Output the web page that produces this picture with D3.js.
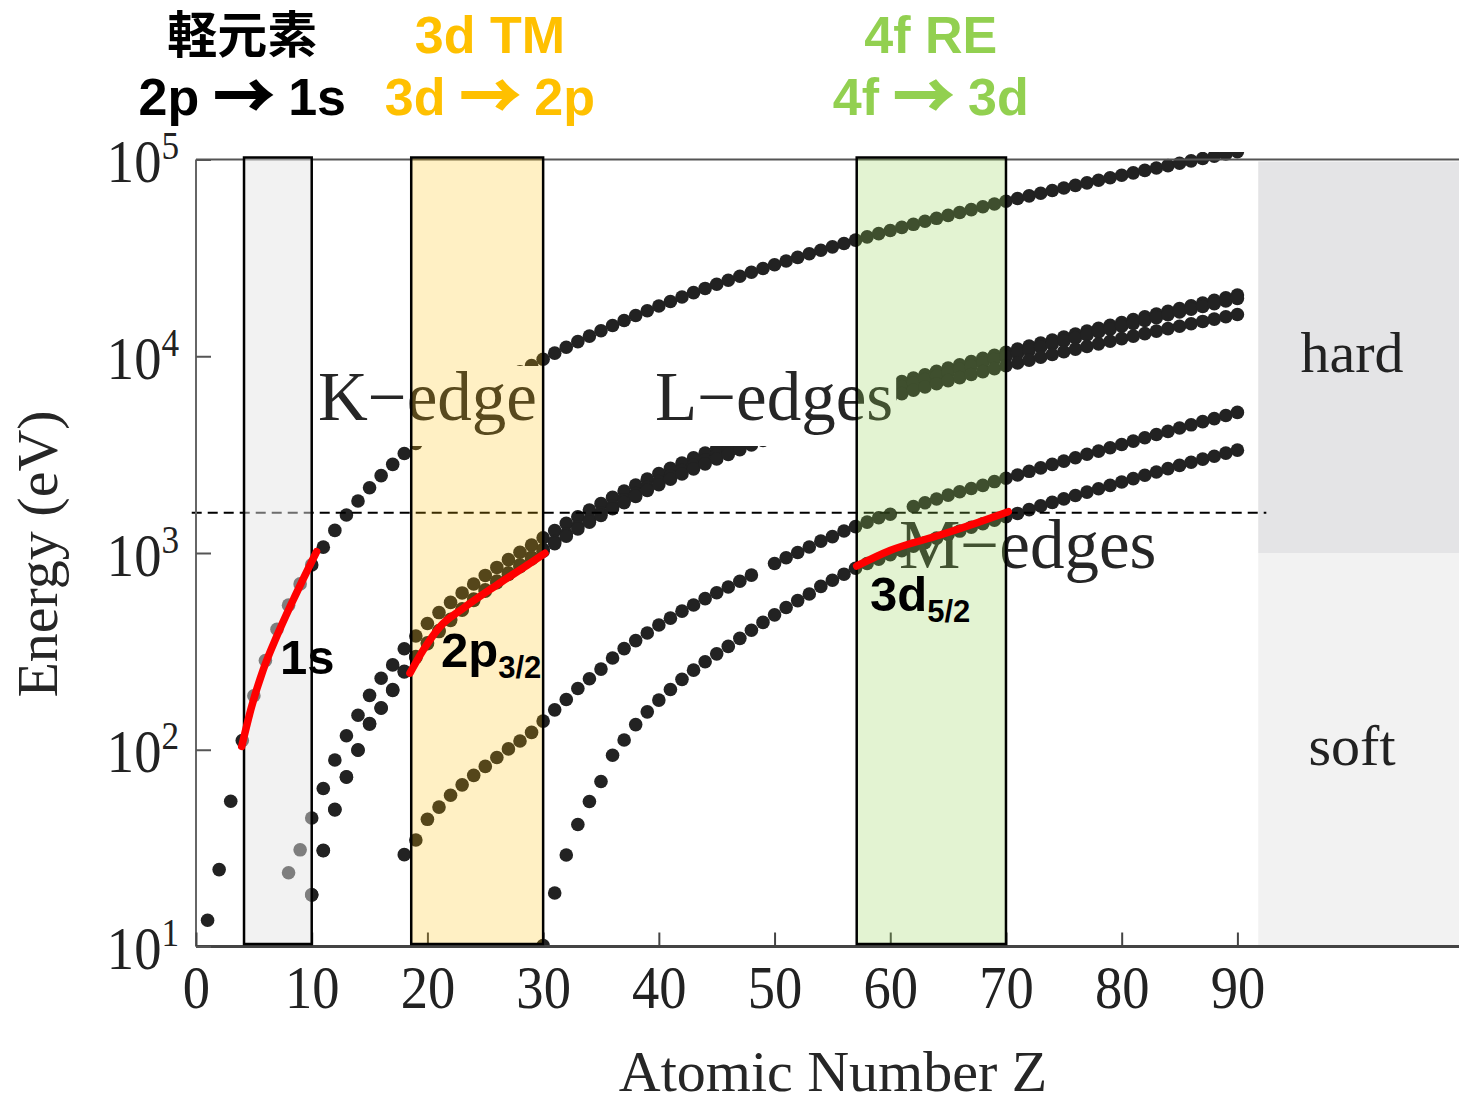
<!DOCTYPE html>
<html>
<head>
<meta charset="utf-8">
<script src="https://cdn.jsdelivr.net/npm/d3@7/dist/d3.min.js"></script>
<style>
  html, body { margin: 0; padding: 0; background: #fff; }
  svg { display: block; }
</style>
</head>
<body>
<svg id="chart" width="1459" height="1096"></svg>
<script>
// Atomic numbers Z = 1 … 90
const atomicNumbers = [
  1, 2, 3, 4, 5, 6, 7, 8, 9, 10,
  11, 12, 13, 14, 15, 16, 17, 18, 19, 20,
  21, 22, 23, 24, 25, 26, 27, 28, 29, 30,
  31, 32, 33, 34, 35, 36, 37, 38, 39, 40,
  41, 42, 43, 44, 45, 46, 47, 48, 49, 50,
  51, 52, 53, 54, 55, 56, 57, 58, 59, 60,
  61, 62, 63, 64, 65, 66, 67, 68, 69, 70,
  71, 72, 73, 74, 75, 76, 77, 78, 79, 80,
  81, 82, 83, 84, 85, 86, 87, 88, 89, 90
];

// Absorption edge energies (eV), one entry per atomic number; null = no edge plotted
const kEdge = [
  13.6, 24.6, 54.7, 111.5, 188, 284.2, 409.9, 543.1, 696.7, 870.2,
  1070.8, 1303, 1559.6, 1839, 2145.5, 2472, 2822.4, 3205.9, 3608.4, 4038.5,
  4492, 4966, 5465, 5989, 6539, 7112, 7709, 8333, 8979, 9659,
  10367, 11103, 11867, 12658, 13474, 14326, 15200, 16105, 17038, 17998,
  18986, 20000, 21044, 22117, 23220, 24350, 25514, 26711, 27940, 29200,
  30491, 31814, 33169, 34561, 35985, 37441, 38925, 40443, 41991, 43569,
  45184, 46834, 48519, 50239, 51996, 53789, 55618, 57486, 59390, 61332,
  63314, 65351, 67416, 69525, 71676, 73871, 76111, 78395, 80725, 83102,
  85530, 88005, 90526, 93105, 95730, 98404, 101137, 103922, 106755, 109651
];
const l1Edge = [
  null, null, null, null, null, null, null, 23.7, 31, 45,
  63.5, 88.7, 117.8, 149.7, 189, 230.9, 270, 326.3, 378.6, 438.4,
  498, 560.9, 626.7, 696, 769.1, 844.6, 925.1, 1008.6, 1096.7, 1196.2,
  1299, 1414.6, 1527, 1652, 1782, 1921, 2065, 2216, 2373, 2532,
  2698, 2866, 3043, 3224, 3412, 3604, 3806, 4018, 4238, 4465,
  4698, 4939, 5188, 5453, 5714, 5989, 6266, 6549, 6835, 7126,
  7428, 7737, 8052, 8376, 8708, 9046, 9394, 9751, 10116, 10486,
  10870, 11271, 11682, 12100, 12527, 12968, 13419, 13880, 14353, 14839,
  15347, 15861, 16388, 16939, 17493, 18049, 18639, 19237, 19840, 20472
];
const l2Edge = [
  null, null, null, null, null, null, null, null, null, 18.3,
  30.65, 49.78, 72.95, 99.82, 136, 163.6, 202, 250.6, 297.3, 349.7,
  403.6, 460.2, 519.8, 583.8, 649.9, 719.9, 793.2, 870, 952.3, 1044.9,
  1143.2, 1248.1, 1359.1, 1474.3, 1596, 1730.9, 1864, 2007, 2156, 2307,
  2465, 2625, 2793, 2967, 3146, 3330, 3524, 3727, 3938, 4156,
  4380, 4612, 4852, 5107, 5359, 5624, 5891, 6164, 6440, 6722,
  7013, 7312, 7617, 7930, 8252, 8581, 8918, 9264, 9617, 9978,
  10349, 10739, 11136, 11544, 11959, 12385, 12824, 13273, 13734, 14209,
  14698, 15200, 15711, 16244, 16785, 17337, 17907, 18484, 19083, 19693
];
const l3Edge = [
  null, null, null, null, null, null, null, null, null, 18.3,
  30.81, 49.5, 72.55, 99.42, 135, 162.5, 200, 248.4, 294.6, 346.2,
  398.7, 453.8, 512.1, 574.1, 638.7, 706.8, 778.1, 852.7, 932.7, 1021.8,
  1116.4, 1217, 1323.6, 1433.9, 1550, 1678.4, 1804, 1940, 2080, 2223,
  2371, 2520, 2677, 2838, 3004, 3173, 3351, 3538, 3730, 3929,
  4132, 4341, 4557, 4786, 5012, 5247, 5483, 5723, 5964, 6208,
  6459, 6716, 6977, 7243, 7514, 7790, 8071, 8358, 8648, 8944,
  9244, 9561, 9881, 10207, 10535, 10871, 11215, 11564, 11919, 12284,
  12658, 13035, 13419, 13814, 14214, 14619, 15031, 15444, 15871, 16300
];
const m1Edge = [
  null, null, null, null, null, null, null, null, null, null,
  null, null, null, null, null, null, null, 29.3, 34.8, 44.3,
  51.1, 58.7, 66.3, 74.1, 82.3, 91.3, 101, 110.8, 122.5, 139.8,
  159.5, 180.1, 204.7, 229.6, 257, 292.8, 326.7, 358.7, 392, 430.3,
  466.6, 506.3, 544, 586.1, 628.1, 671.6, 719, 772, null, 884.7,
  946, 1006, 1072, 1148.7, 1211, 1293, 1362, 1436, 1511, 1575,
  null, 1723, 1800, 1881, 1968, 2047, 2128, 2207, 2307, 2398,
  2491, 2601, 2708, 2820, 2932, 3049, 3174, 3296, 3425, 3562,
  3704, 3851, 3999, 4149, 4317, 4482, 4652, 4822, 5002, 5182
];
const m5Edge = [
  null, null, null, null, null, null, null, null, null, null,
  null, null, null, null, null, null, null, null, null, null,
  null, null, null, null, null, null, null, null, null, 10.1,
  18.7, 29.2, 41.7, 54.6, 69, 93.8, 112, 134.2, 155.8, 178.8,
  202.3, 227.9, 253.9, 280, 307.2, 335.2, 368.3, 405.2, 443.9, 484.9,
  528.2, 573, 619.3, 676.4, 726.6, 780.5, 836, 883.8, 928.8, 980.4,
  1027, 1083.4, 1127.5, 1189.6, 1241.1, 1292.6, 1351, 1409, 1468, 1528,
  1589, 1662, 1735, 1809, 1883, 1960, 2040, 2122, 2206, 2295,
  2389, 2484, 2580, 2683, 2787, 2892, 3000, 3105, 3219, 3332
];

// Highlighted element groups (Z ranges): light elements, 3d transition metals, 4f rare earths
const groupRanges = [[4.15, 10], [18.6, 30], [57.1, 70]];
const groupTitles = ["軽元素", "3d TM", "4f RE"];
const groupTransitions = [["2p", "1s"], ["3d", "2p"], ["4f", "3d"]];

// Guide curves for the edges used in each group: [Z, energy eV]
const curve1s = [[3.95, 104], [4.81, 166], [5.81, 255], [6.97, 376], [8.4, 577], [10.42, 1015]];
const curve2p32 = [[18.49, 245], [19.64, 321], [21.09, 422], [23.1, 524], [25.99, 687], [28.86, 886], [30.16, 997]];
const curve3d52 = [[57.1, 859], [59.98, 1030], [64.3, 1234], [67.76, 1442], [70.2, 1622]];

// Soft / hard X-ray split and reference energy (eV)
const softHardBoundary = 1000;
const referenceEnergy = 1600;
const spectralRegionStartZ = 91.8;

// Axis ticks
const xTickValues = [0, 10, 20, 30, 40, 50, 60, 70, 80, 90];
const yTickValues = [10, 100, 1000, 10000, 100000];
const yTickExponents = ["1", "2", "3", "4", "5"];

// ---------------------------------------------------------------
const svg = d3.select("#chart");
const W = 1459;
const plotLeft = 196, plotRight = 1459, plotTop = 159.5, plotBottom = 946.5;

const x = d3.scaleLinear().domain([0, 90]).range([plotLeft, 1237.4]);
const y = d3.scaleLog().domain([10, 100000]).range([plotBottom, plotTop]);

const serif = "'Liberation Serif', 'Times New Roman', serif";
const sans = "'Liberation Sans', Arial, sans-serif";
const cjk = "'Noto Sans CJK JP', sans-serif";
const ink = "#222";

svg.append("rect").attr("width", W).attr("height", 1096).attr("fill", "#fff");

const defs = svg.append("defs");
defs.append("clipPath").attr("id", "plotClip")
  .append("rect")
  .attr("x", plotLeft).attr("y", 152)
  .attr("width", plotRight - plotLeft).attr("height", plotBottom - 152);

// Soft / hard X-ray regions on the right
const regionX = x(spectralRegionStartZ);
svg.append("rect")
  .attr("x", regionX).attr("y", plotTop + 2)
  .attr("width", plotRight - regionX).attr("height", y(softHardBoundary) - plotTop - 2)
  .attr("fill", "#e4e4e6");
svg.append("rect")
  .attr("x", regionX).attr("y", y(softHardBoundary))
  .attr("width", plotRight - regionX).attr("height", plotBottom - y(softHardBoundary))
  .attr("fill", "#f2f2f2");

// Edge energies as dots
const edgeSeries = [kEdge, l1Edge, l2Edge, l3Edge, m1Edge, m5Edge];
const dotLayer = svg.append("g").attr("clip-path", "url(#plotClip)");
edgeSeries.forEach(values => {
  const pts = atomicNumbers.map((z, i) => ({ z, e: values[i] })).filter(d => d.e != null);
  dotLayer.selectAll(null).data(pts).enter().append("circle")
    .attr("cx", d => x(d.z)).attr("cy", d => y(d.e))
    .attr("r", 6.8).attr("fill", ink);
});

// In-plot labels (K and L labels sit on white boxes)
function boxedLabel(text, xs, base) {
  const g = svg.append("g");
  const t = g.append("text").attr("x", xs).attr("y", base)
    .attr("font-family", serif).attr("font-size", 69).attr("fill", "#262626").text(text);
  const bb = t.node().getBBox();
  g.insert("rect", "text")
    .attr("x", bb.x - 4).attr("y", base - 54)
    .attr("width", bb.width + 7).attr("height", 80)
    .attr("fill", "#fff");
}
boxedLabel("K\u2212edge", 318, 420);
boxedLabel("L\u2212edges", 655, 420);
svg.append("text").attr("x", 899).attr("y", 568)
  .attr("font-family", serif).attr("font-size", 69).attr("fill", "#262626").text("M\u2212edges");

svg.append("text").attr("x", 1352).attr("y", 372).attr("text-anchor", "middle")
  .attr("font-family", serif).attr("font-size", 58).attr("fill", "#222").text("hard");
svg.append("text").attr("x", 1352).attr("y", 765).attr("text-anchor", "middle")
  .attr("font-family", serif).attr("font-size", 58).attr("fill", "#222").text("soft");

// Reference energy dashed line
svg.append("line")
  .attr("x1", x(-0.37)).attr("x2", x(92.5))
  .attr("y1", y(referenceEnergy)).attr("y2", y(referenceEnergy))
  .attr("stroke", "#000").attr("stroke-width", 2).attr("stroke-dasharray", "10,6");

// Frame
svg.append("line").attr("x1", plotLeft).attr("x2", plotRight)
  .attr("y1", plotTop).attr("y2", plotTop).attr("stroke", "#555").attr("stroke-width", 2);
svg.append("line").attr("x1", plotLeft).attr("x2", plotLeft)
  .attr("y1", plotTop).attr("y2", plotBottom).attr("stroke", "#666").attr("stroke-width", 2);
svg.append("line").attr("x1", plotLeft).attr("x2", plotRight)
  .attr("y1", plotBottom).attr("y2", plotBottom).attr("stroke", "#444").attr("stroke-width", 3);

// X axis
const xAxis = svg.append("g").attr("transform", `translate(0,${plotBottom})`)
  .call(d3.axisBottom(x).tickValues(xTickValues).tickSizeInner(-14).tickSizeOuter(0).tickFormat(d3.format("d")));
xAxis.select(".domain").remove();
xAxis.selectAll(".tick line").attr("stroke", "#444").attr("stroke-width", 2);
xAxis.selectAll(".tick text")
  .attr("y", 0).attr("dy", null)
  .attr("transform", "translate(0,61) scale(0.88,1)")
  .attr("font-family", serif).attr("font-size", 62).attr("fill", ink);

// Y axis (log, decade ticks)
const yAxis = svg.append("g").attr("transform", `translate(${plotLeft},0)`)
  .call(d3.axisLeft(y).tickValues(yTickValues).tickSizeInner(-15).tickSizeOuter(0).tickFormat(""));
yAxis.select(".domain").remove();
yAxis.selectAll(".tick line").attr("stroke", "#555").attr("stroke-width", 2);
yAxis.selectAll(".tick").each(function (d, i) {
  const t = d3.select(this).append("text")
    .attr("transform", "translate(-17,22) scale(0.88,1)")
    .attr("text-anchor", "end")
    .attr("font-family", serif).attr("fill", ink);
  t.append("tspan").attr("font-size", 62).text("10");
  t.append("tspan").attr("font-size", 40).attr("dy", -23).text(yTickExponents[i]);
});

svg.append("text")
  .attr("transform", "translate(57,554) rotate(-90)")
  .attr("text-anchor", "middle")
  .attr("font-family", serif).attr("font-size", 58).attr("fill", "#262626")
  .text("Energy (eV)");
svg.append("text")
  .attr("x", 833).attr("y", 1091).attr("text-anchor", "middle")
  .attr("font-family", serif).attr("font-size", 58).attr("fill", "#262626")
  .text("Atomic Number Z");

// Highlighted element groups: translucent tint over everything below, then outline
const groupFill = ["#e4e4e4", "#ffc000", "#92d050"];
const groupAlpha = [0.48, 0.23, 0.26];
const groupText = ["#000000", "#ffc000", "#92d050"];
groupRanges.forEach((r, i) => {
  svg.append("rect")
    .attr("x", x(r[0])).attr("y", 157.5)
    .attr("width", x(r[1]) - x(r[0])).attr("height", 944 - 157.5)
    .attr("fill", groupFill[i]).attr("fill-opacity", groupAlpha[i])
    .attr("stroke", "#000").attr("stroke-width", 2.5);
});

// Guide curves
const guide = d3.line().x(d => x(d[0])).y(d => y(d[1])).curve(d3.curveMonotoneX);
[curve1s, curve2p32, curve3d52].forEach(c => {
  svg.append("path").attr("d", guide(c))
    .attr("fill", "none").attr("stroke", "#ff0000")
    .attr("stroke-width", 7.5).attr("stroke-linecap", "round").attr("stroke-linejoin", "round");
});

// Orbital labels
function orbitalLabel(xs, base, main, sub) {
  const t = svg.append("text").attr("x", xs).attr("y", base)
    .attr("font-family", sans).attr("font-weight", "bold").attr("fill", "#000");
  t.append("tspan").attr("font-size", 49).text(main);
  if (sub) t.append("tspan").attr("font-size", 31).attr("dy", 11).text(sub);
}
orbitalLabel(280, 674, "1s");
orbitalLabel(441, 667, "2p", "3/2");
orbitalLabel(870, 611, "3d", "5/2");

// Group titles above the plot
const titleCenters = [x(4.0), x(25.4), x(63.5)];
groupTitles.forEach((title, i) => {
  svg.append("text").attr("x", titleCenters[i]).attr("y", 53).attr("text-anchor", "middle")
    .attr("font-family", i === 0 ? cjk : sans)
    .attr("font-weight", "bold").attr("font-size", i === 0 ? 50 : 52)
    .attr("fill", groupText[i]).text(title);
  const t = svg.append("text").attr("x", titleCenters[i]).attr("y", 115).attr("text-anchor", "middle")
    .attr("font-family", sans).attr("font-weight", "bold").attr("font-size", 52)
    .attr("fill", groupText[i]);
  t.append("tspan").text(groupTransitions[i][0] + " ");
  t.append("tspan").attr("font-family", cjk).attr("font-size", 60).attr("dy", 3)
    .attr("stroke", groupText[i]).attr("stroke-width", 2).attr("stroke-linejoin", "miter")
    .text("\u2192");
  t.append("tspan").attr("dy", -3).text(" " + groupTransitions[i][1]);
});
</script>
</body>
</html>
